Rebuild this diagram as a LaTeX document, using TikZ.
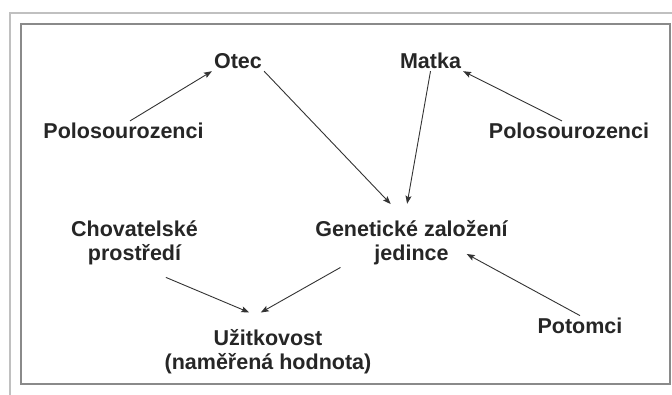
\documentclass[tikz,border=0pt]{standalone}
\usepackage{fontspec}
\setmainfont{Liberation Sans}
\usetikzlibrary{arrows.meta}
\definecolor{framegray}{RGB}{138,138,138}
\definecolor{pagegray}{RGB}{192,192,192}
\definecolor{linkgray}{RGB}{51,51,51}
\definecolor{labelgray}{RGB}{38,38,38}

\begin{document}
\begin{tikzpicture}[x=1pt, y=-1pt,
  trait/.style={text=labelgray, font=\fontsize{21.5}{24}\selectfont\bfseries, align=center, inner sep=2pt},
  link/.style={linkgray, line width=0.9pt, -{Stealth[length=8pt, width=6pt, inset=1.5pt]}}]
  \useasboundingbox (0,0) rectangle (672,395);
  % page edge and frame
  \draw[pagegray, line width=1.2pt] (10,395) -- (10,13) -- (672,13);
  \draw[framegray, line width=1.5pt] (21,24) rectangle (670,384);

  % parents and relatives
  \node[trait, anchor=base] (otec) at (238,68.8) {Otec};
  \node[trait, anchor=base] (matka) at (430.5,68.8) {Matka};
  \node[trait, anchor=base] (polo1) at (123.5,138.7) {Polosourozenci};
  \node[trait, anchor=base] (polo2) at (569,138.7) {Polosourozenci};
  % middle and bottom rows
  \node[trait] (prostredi) at (134.5,243) {Chovatelské\\prostředí};
  \node[trait] (genotyp) at (411.5,243) {Genetické založení\\jedince};
  \node[trait, anchor=base] (potomci) at (580,333.4) {Potomci};
  \node[trait] (uzitkovost) at (268,351.25) {Užitkovost\\(naměřená hodnota)};

  \draw[link] ([xshift=6.5pt]polo1.north) -- (otec.south west);
  \draw[link, shorten >=20pt] (otec.south east) -- ([xshift=-7pt]genotyp.north);
  \draw[link, shorten >=15pt] (matka.south) -- ([xshift=-7pt]genotyp.north);
  \draw[link] ([xshift=-7pt]polo2.north) -- (matka.south east);
  \draw[link, shorten >=23pt] (potomci.north) -- ([xshift=35pt]genotyp.center);
  \draw[link, shorten >=29pt] (genotyp.199) -- (uzitkovost.143);
  \draw[link, shorten <=26pt, shorten >=37pt] (prostredi.-73) -- (uzitkovost.58);
\end{tikzpicture}
\end{document}
